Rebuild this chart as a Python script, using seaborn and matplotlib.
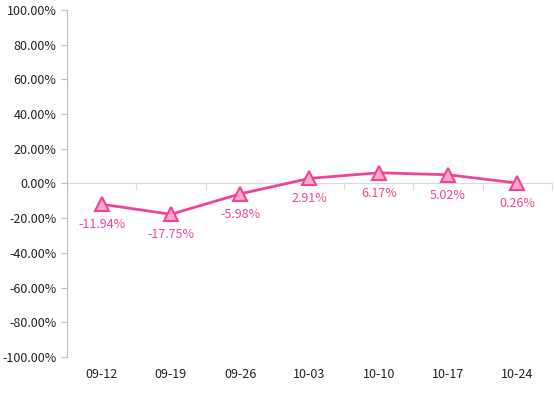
import matplotlib
matplotlib.use("Agg")
import matplotlib.pyplot as plt
import seaborn as sns
import pandas as pd
from matplotlib.ticker import PercentFormatter

# data
weeks = ["09-12", "09-19", "09-26", "10-03", "10-10", "10-17", "10-24"]
change = [-11.94, -17.75, -5.98, 2.91, 6.17, 5.02, 0.26]

pink = "#F0449A"
light_pink = "#F7A8CB"
grid_grey = "#D9D9D9"

sns.set_style("white")
plt.rcParams["font.family"] = ["Noto Sans CJK SC", "DejaVu Sans"]
plt.rcParams["axes.unicode_minus"] = False

df = pd.DataFrame({"week": weeks, "change": change})
df["pos"] = range(len(df))

fig, ax = plt.subplots(figsize=(5.54, 3.95), dpi=100)
fig.subplots_adjust(left=0.121, right=0.996, top=0.975, bottom=0.096)

# zero line with ticks between categories
zero = ax.secondary_xaxis(0.5)
zero.set_xticks([i - 0.5 for i in range(len(weeks) + 1)])
zero.xaxis.set_ticks_position("bottom")
zero.tick_params(length=5, color=grid_grey, labelbottom=False, labeltop=False)
for s in zero.spines.values():
    s.set_color(grid_grey)

sns.lineplot(data=df, x="pos", y="change", ax=ax, color=pink, linewidth=2,
             marker="^", markersize=10, markerfacecolor=light_pink,
             markeredgecolor=pink, markeredgewidth=1.5, zorder=5)

for x, y in zip(df["pos"], df["change"]):
    ax.annotate(f"{y:.2f}%", (x, y), xytext=(0, -10), textcoords="offset points",
                ha="center", va="top", color=pink, fontsize=9)

ax.set_xlim(-0.5, len(weeks) - 0.5)
ax.set_ylim(-100, 100)
ax.set_yticks(range(-100, 101, 20))
ax.yaxis.set_major_formatter(PercentFormatter(decimals=2))
ax.set_xticks(df["pos"])
ax.set_xticklabels(weeks)
ax.tick_params(axis="x", length=0, labelsize=9, pad=8, labelcolor="#222222")
ax.tick_params(axis="y", length=4, color="#BFBFBF", labelsize=9, left=True,
               labelcolor="#222222")
ax.set_xlabel("")
ax.set_ylabel("")

for s in ["top", "right", "bottom"]:
    ax.spines[s].set_visible(False)
ax.spines["left"].set_color("#BFBFBF")

fig.savefig("out.png", dpi=100)
